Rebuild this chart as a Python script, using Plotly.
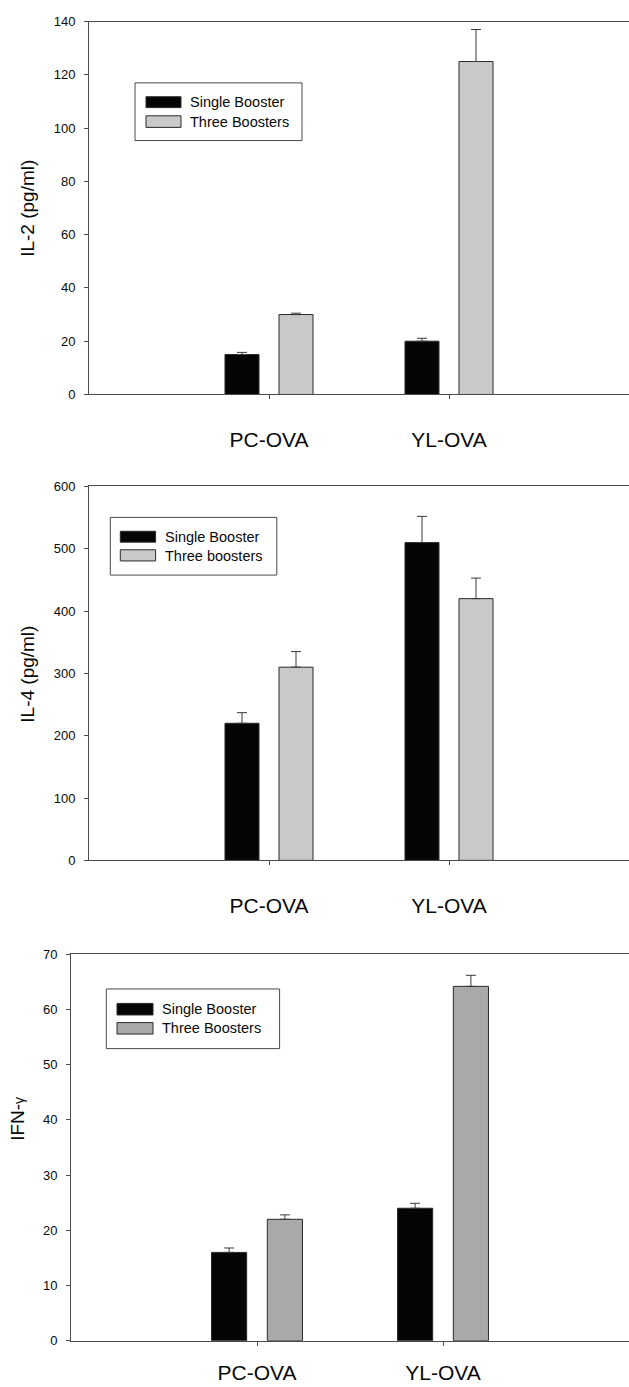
import plotly.graph_objects as go

W, H = 629, 1387

categories = ["PC-OVA", "YL-OVA"]
series_names = ["Single Booster", "Three Boosters"]
series_names_il4 = ["Single Booster", "Three boosters"]

il2_single = [15, 20]
il2_single_err = [0.8, 1.1]
il2_three = [30, 125]
il2_three_err = [0.5, 12]

il4_single = [220, 510]
il4_single_err = [17, 42]
il4_three = [310, 420]
il4_three_err = [25, 33]

ifn_single = [16, 24]
ifn_single_err = [0.8, 0.9]
ifn_three = [22, 64.2]
ifn_three_err = [0.8, 2.0]

y_titles = ["IL-2 (pg/ml)", "IL-4 (pg/ml)", "IFN-<span style='font-size:14px'>γ</span>"]
y_ranges = [[0, 140], [0, 600], [0, 70]]
y_dticks = [20, 100, 10]

BLACK = "#050505"
LIGHT = "#c9c9c9"
MID = "#a9a9a9"
LINE = "#4a4a4a"
TXT = "#0a0a0a"
FONT = "Liberation Sans, Arial, sans-serif"


def px_x(v):
    return v / W


def px_y(v):
    return 1 - v / H


# panel geometry in pixels: (left, top, bottom)
panels = [
    dict(left=89, top=14.7, bottom=391.7, standoff=22,
         title_x=28, title_y=203,
         leg=dict(box=(135, 76.7, 302, 135), sw=(146, 181), sy=[(90.7, 101.7), (110, 121.7)], tx=188, ty=[96.5, 116])),
    dict(left=89, top=484.7, bottom=862.7, standoff=22,
         title_x=28, title_y=674,
         leg=dict(box=(110.3, 516, 276.8, 574.3), sw=(120.3, 155.6), sy=[(530, 541), (548.7, 560)], tx=163, ty=[535.5, 554.5])),
    dict(left=71, top=957.7, bottom=1348.3, standoff=9,
         title_x=18, title_y=1124,
         leg=dict(box=(106.3, 992.7, 279.6, 1053), sw=(117, 153), sy=[(1007.3, 1019), (1026.7, 1038.3)], tx=160, ty=[1012.5, 1032])),
]

data = [
    (il2_single, il2_single_err, il2_three, il2_three_err, LIGHT, series_names),
    (il4_single, il4_single_err, il4_three, il4_three_err, LIGHT, series_names_il4),
    (ifn_single, ifn_single_err, ifn_three, ifn_three_err, MID, series_names),
]

fig = go.Figure()
shapes = []
annotations = []

for i, (p, d) in enumerate(zip(panels, data)):
    s_vals, s_err, t_vals, t_err, t_col, names = d
    ax = "" if i == 0 else str(i + 1)
    xref, yref = "x" + ax, "y" + ax
    for vals, err, col, name in [(s_vals, s_err, BLACK, names[0]), (t_vals, t_err, t_col, names[1])]:
        fig.add_trace(go.Bar(
            x=categories, y=vals, name=name, xaxis=xref, yaxis=yref,
            marker=dict(color=col, line=dict(color="#2a2a2a", width=1)),
            error_y=dict(type="data", array=err, arrayminus=[0] * len(err), symmetric=False,
                         color="#3a3a3a", thickness=1, width=5),
            showlegend=False,
        ))
    xa = dict(domain=[px_x(p["left"]), 1.0], range=[-1, 2], type="category",
              showline=True, linecolor=LINE, linewidth=1, mirror=True,
              ticks="outside", ticklen=4, tickcolor=LINE, tickwidth=1,
              tickfont=dict(family=FONT, size=21, color=TXT),
              ticklabelstandoff=p["standoff"],
              showgrid=False, zeroline=False, anchor=yref, fixedrange=True)
    ya = dict(domain=[px_y(p["bottom"]), px_y(p["top"])], range=y_ranges[i], dtick=y_dticks[i],
              showline=True, linecolor=LINE, linewidth=1, mirror=False,
              ticks="outside", ticklen=4, tickcolor=LINE, tickwidth=1,
              tickfont=dict(family=FONT, size=13, color=TXT),
              ticklabelstandoff=6,
              showgrid=False, zeroline=False, anchor=xref, fixedrange=True)
    fig.update_layout(**{"xaxis" + ax: xa, "yaxis" + ax: ya})

    annotations.append(dict(text=y_titles[i], x=px_x(p["title_x"]), y=px_y(p["title_y"]),
                            xref="paper", yref="paper", showarrow=False, textangle=-90,
                            xanchor="center", yanchor="middle",
                            font=dict(family=FONT, size=19, color=TXT)))

    lg = p["leg"]
    x0, y0, x1, y1 = lg["box"]
    shapes.append(dict(type="rect", xref="paper", yref="paper",
                       x0=px_x(x0), x1=px_x(x1), y0=px_y(y1), y1=px_y(y0),
                       line=dict(color=LINE, width=1), fillcolor="white"))
    for j, (col, name) in enumerate([(BLACK, names[0]), (t_col, names[1])]):
        sy0, sy1 = lg["sy"][j]
        shapes.append(dict(type="rect", xref="paper", yref="paper",
                           x0=px_x(lg["sw"][0]), x1=px_x(lg["sw"][1]),
                           y0=px_y(sy1), y1=px_y(sy0),
                           line=dict(color="#2a2a2a", width=1), fillcolor=col))
        annotations.append(dict(text=name, x=px_x(lg["tx"]), y=px_y(lg["ty"][j]),
                                xref="paper", yref="paper", showarrow=False,
                                xanchor="left", yanchor="middle",
                                font=dict(family=FONT, size=14.5, color=TXT)))

fig.update_layout(
    width=W, height=H, autosize=False,
    margin=dict(l=0, r=0, t=0, b=0),
    paper_bgcolor="white", plot_bgcolor="white",
    barmode="group", bargap=0.4, bargroupgap=0.37,
    shapes=shapes, annotations=annotations,
    font=dict(family=FONT, color=TXT),
)

fig.write_html(
    "out.html",
    config={"displayModeBar": False},
    post_script="document.documentElement.style.margin='0';document.body.style.margin='0';"
                "document.documentElement.style.overflow='hidden';document.body.style.overflow='hidden';",
)
